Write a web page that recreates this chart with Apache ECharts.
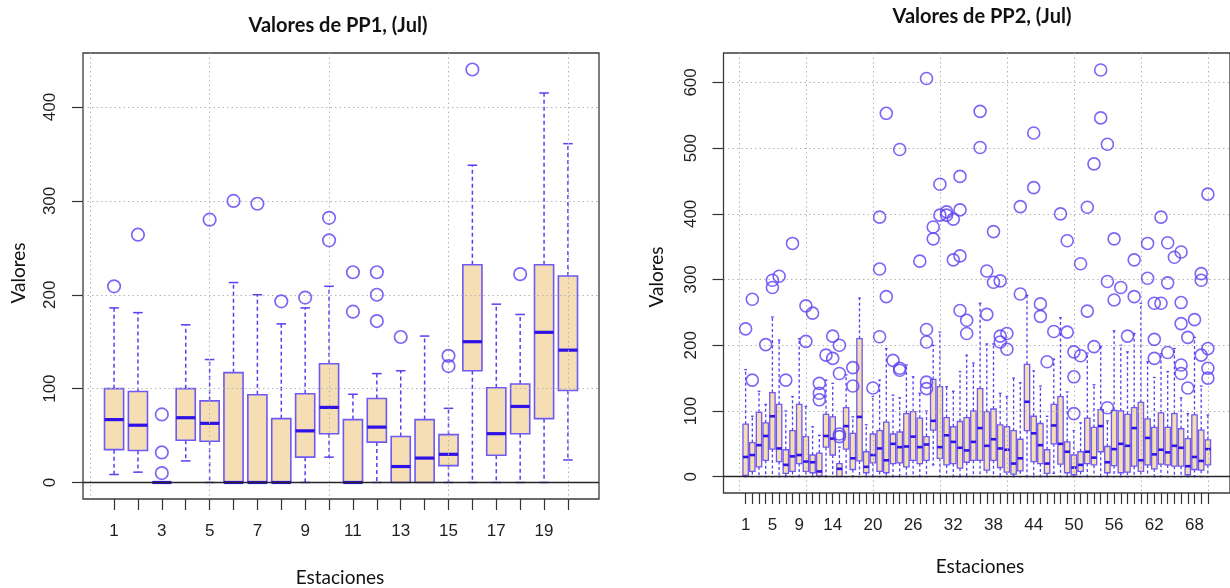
<!DOCTYPE html>
<html>
<head>
<meta charset="utf-8">
<script src="https://cdn.jsdelivr.net/npm/echarts@6/dist/echarts.min.js"></script>
<style>
  html, body { margin: 0; padding: 0; background: #ffffff; }
  #chart { width: 1230px; height: 588px; }
</style>
</head>
<body>
<div id="chart"></div>
<script>
// ---- PP1 (July), 20 stations: whisker ends, quartiles, median, outliers ----
const pp1Stations = [1,2,3,4,5,6,7,8,9,10,11,12,13,14,15,16,17,18,19,20];
const pp1Low    = [8.5, 11, 0, 23, 0, 0, 0, 0, 0, 27, 0, 0, 0, 0, 0, 0, 0, 0, 0, 24];
const pp1Q1     = [35, 34, 0, 45, 44, 0, 0, 0, 27, 52, 0, 43, 0, 0, 18, 119, 29, 52, 68, 98];
const pp1Median = [67, 61, 0, 69, 63, 0, 0, 0, 55, 80, 0, 59, 17, 26, 30, 150, 52, 81, 160, 141];
const pp1Q3     = [100, 97, 0, 100, 87, 117, 93.5, 68, 94.5, 126.5, 67, 89.5, 49, 67, 51, 232, 101, 105, 232, 220];
const pp1High   = [186, 181, 0, 168, 131, 213, 200, 169, 186, 209, 94, 116, 119, 156, 79, 338, 190, 179, 415, 361];
const pp1Outliers = [
  [209], [264], [10, 32, 72.5], [], [280], [300], [297], [193], [197], [258, 282],
  [182, 224], [172, 200, 224], [155], [], [124, 135], [440], [], [222], [], []
];
const pp1TickLabels = [1, 3, 5, 7, 9, 11, 13, 15, 17, 19];
const pp1ValueTicks = [0, 100, 200, 300, 400];
const pp1GridX = [0, 5, 10, 15, 20];

// ---- PP2 (July), 70 stations ----
const pp2Stations = Array.from({ length: 70 }, (_, i) => i + 1);
const pp2Low = [
  0,0,0,0,0,0,0,0,0,0, 0,0,0,0,0,0,0,0,0,0, 0,0,0,0,0,0,0,0,18,0,
  0,0,0,0,0,0,0,0,0,0, 0,0,0,0,0,0,5,0,0,0, 0,0,0,0,0,0,0,0,0,0,
  0,0,0,0,0,0,0,0,0,0
];
const pp2Q1 = [
  2,8,15,25,42,23,5,8,20,8, 6,1,45,33,0,42,11,24,6,21, 8,6,20,21,15,25,20,25,71,28,
  18,20,13,22,25,25,10,25,14,7, 4,9,70,23,20,5,50,19,6,3, 8,20,18,38,6,17,6,7,16,8,
  18,12,19,18,16,16,3,11,10,18
];
const pp2Median = [
  30,33,48,62,92,43,18,31,33,23, 22,8,62,58,12,77,28,91,15,33, 43,25,50,45,46,61,45,49,85,45,
  63,53,44,40,53,74,47,57,43,41, 20,28,114,66,48,20,78,50,38,14, 18,38,29,77,22,42,50,47,74,25,
  59,34,41,37,47,44,16,30,24,42
];
const pp2Q3 = [
  80,52,98,82,128,110,41,70,110,61, 33,36,95,91,20,105,66,210,38,65, 70,83,65,68,96,99,89,61,148,137,
  90,76,84,90,100,134,99,103,79,76, 70,57,171,92,81,41,110,122,53,33, 38,89,75,102,46,101,100,95,105,113,
  88,75,97,75,96,73,58,94,71,56
];
const pp2High = [
  163,92,130,110,243,208,100,122,210,107, 76,63,147,142,45,155,91,272,79,122, 147,195,124,120,170,152,127,100,200,220,
  137,130,160,185,173,264,202,202,127,122, 150,143,276,161,138,92,179,242,129,70, 82,188,140,198,85,222,200,190,218,264,
  175,151,187,160,195,120,96,212,138,94
];
const pp2Outliers = [
  [225], [147, 270], [], [201], [288, 299], [305], [147], [355], [], [206, 260],
  [249], [117, 127, 142], [185], [180, 214], [61, 65, 157, 200], [], [138, 166], [], [], [135],
  [213, 316, 395], [274, 553], [177], [162, 165, 498], [], [], [328], [134, 144, 205, 224, 606], [362, 380], [398, 445],
  [398, 403], [330, 392], [253, 336, 406, 457], [218, 238], [], [501, 556], [247, 313], [296, 373], [205, 214, 298], [194, 218],
  [], [278, 411], [], [440, 523], [244, 263], [175], [221], [400], [220, 359], [96, 152, 190],
  [184, 324], [252, 410], [198, 476], [546, 619], [105, 297, 506], [269, 362], [288], [214], [274, 330], [],
  [302, 355], [180, 209, 264], [264, 395], [189, 295, 356], [334], [157, 170, 233, 265, 342], [135, 212], [239], [185, 299, 309], [150, 165, 195, 430]
];
const pp2TickLabels = [1, 5, 9, 14, 20, 26, 32, 38, 44, 50, 56, 62, 68];
const pp2ValueTicks = [0, 100, 200, 300, 400, 500, 600];
const pp2GridX = [0, 10, 20, 30, 40, 50, 60, 70];

// ---- helpers ----
function boxRows(stations, lo, q1, med, q3, hi) {
  return stations.map((s, i) => [s, lo[i], q1[i], med[i], q3[i], hi[i]]);
}
function outlierPoints(stations, outs) {
  const pts = [];
  stations.forEach((s, i) => outs[i].forEach(v => pts.push([s, v])));
  return pts;
}

const FILL = '#F5DEB3';
const BORDER = '#6F58F4';
const MEDIAN = '#2E12E6';
const WHISKER = '#5540F2';
const OUTLIER = '#5A40F4';

// Box-and-whisker glyph: dashed whiskers, solid staples, filled box, heavy median.
function makeBoxRenderer(st) {
  return function (params, api) {
    const k = api.value(0);
    const lo = api.value(1), q1 = api.value(2), med = api.value(3), q3 = api.value(4), hi = api.value(5);
    const w = api.size([0.8, 0])[0];
    const cx = api.coord([k, 0])[0];
    const py = v => api.coord([k, v])[1];
    const half = w / 2;
    const sh = w * 0.25;
    const dashed = { stroke: WHISKER, lineWidth: st.whiskerWidth, lineDash: st.dash };
    const solid = { stroke: WHISKER, lineWidth: st.whiskerWidth };
    const children = [];
    if (hi > q3) children.push({ type: 'line', shape: { x1: cx, y1: py(q3), x2: cx, y2: py(hi) }, style: dashed });
    if (lo < q1) children.push({ type: 'line', shape: { x1: cx, y1: py(q1), x2: cx, y2: py(lo) }, style: dashed });
    if (hi > q3) children.push({ type: 'line', shape: { x1: cx - sh, y1: py(hi), x2: cx + sh, y2: py(hi) }, style: solid });
    if (lo < q1) children.push({ type: 'line', shape: { x1: cx - sh, y1: py(lo), x2: cx + sh, y2: py(lo) }, style: solid });
    children.push({
      type: 'rect',
      shape: { x: cx - half, y: py(q3), width: w, height: Math.max(py(q1) - py(q3), 0) },
      style: { fill: FILL, stroke: BORDER, lineWidth: st.borderWidth }
    });
    children.push({
      type: 'line',
      shape: { x1: cx - half, y1: py(med), x2: cx + half, y2: py(med) },
      style: { stroke: MEDIAN, lineWidth: st.medianWidth }
    });
    return { type: 'group', children };
  };
}

const tickFont = { fontFamily: 'Liberation Sans', fontSize: 17, color: '#1e1e1e' };
const gridLine = { show: true, lineStyle: { color: '#b4b4b4', type: [1.5, 3], width: 1 } };

function labelAxisX(gridIndex, min, max, ticks, labels) {
  return {
    type: 'value', gridIndex, min, max, position: 'bottom', z: 5,
    axisLine: { show: false, onZero: false },
    axisTick: { show: true, length: 11, inside: false, customValues: ticks, lineStyle: { color: '#333', width: 1.2 } },
    axisLabel: { show: true, margin: 24, customValues: labels, ...tickFont },
    splitLine: { show: false }
  };
}
function gridAxisX(gridIndex, min, max, lines) {
  return {
    type: 'value', gridIndex, min, max, position: 'top', z: 5,
    axisLine: { show: false, onZero: false },
    axisTick: { show: false, customValues: lines },
    axisLabel: { show: false },
    splitLine: gridLine
  };
}
function valueAxisY(gridIndex, min, max, ticks) {
  return {
    type: 'value', gridIndex, min, max, position: 'left', z: 5,
    axisLine: { show: false, onZero: false },
    axisTick: { show: true, length: 11, inside: false, customValues: ticks, lineStyle: { color: '#333', width: 1.2 } },
    axisLabel: { show: true, rotate: 90, margin: 24, customValues: ticks, ...tickFont },
    splitLine: gridLine
  };
}

const zeroLine = {
  silent: true, symbol: ['none', 'none'], animation: false,
  label: { show: false },
  lineStyle: { color: '#262626', width: 1.4, type: 'solid' },
  emphasis: { disabled: true },
  data: [{ yAxis: 0 }]
};

const titleFont = 'Lato';
function text(x, y, str, size, weight, rot) {
  return {
    type: 'text', x, y, rotation: rot || 0, silent: true,
    style: { text: str, fontFamily: titleFont, fontSize: size, fontWeight: weight, fill: '#111', align: 'center', verticalAlign: 'middle' }
  };
}

const chart = echarts.init(document.getElementById('chart'), null, { renderer: 'canvas' });
chart.setOption({
  animation: false,
  backgroundColor: '#ffffff',
  grid: [
    { left: 83, top: 53, width: 516, height: 446, show: true, borderColor: '#3a3a3a', borderWidth: 1.3, backgroundColor: 'transparent' },
    { left: 723.5, top: 53, width: 510, height: 440, show: true, borderColor: '#3a3a3a', borderWidth: 1.3, backgroundColor: 'transparent' }
  ],
  xAxis: [
    labelAxisX(0, -0.3, 21.3, pp1Stations, pp1TickLabels),
    gridAxisX(0, -0.3, 21.3, pp1GridX),
    labelAxisX(1, -2.3, 73.3, pp2Stations, pp2TickLabels),
    gridAxisX(1, -2.3, 73.3, pp2GridX)
  ],
  yAxis: [
    valueAxisY(0, -17.6, 457.6, pp1ValueTicks),
    valueAxisY(1, -24.8, 644.8, pp2ValueTicks)
  ],
  series: [
    {
      type: 'custom', name: 'PP1', xAxisIndex: 0, yAxisIndex: 0, z: 2,
      encode: { x: 0, y: [1, 2, 3, 4, 5] },
      renderItem: makeBoxRenderer({ whiskerWidth: 1.5, dash: [4, 3], borderWidth: 1.6, medianWidth: 3.2 }),
      data: boxRows(pp1Stations, pp1Low, pp1Q1, pp1Median, pp1Q3, pp1High)
    },
    {
      type: 'scatter', name: 'PP1 atípicos', xAxisIndex: 0, yAxisIndex: 0, z: 6,
      symbol: 'circle', symbolSize: 12.5,
      itemStyle: { color: 'rgba(0,0,0,0)', borderColor: OUTLIER, borderWidth: 1.7 },
      data: outlierPoints(pp1Stations, pp1Outliers),
      markLine: zeroLine
    },
    {
      type: 'custom', name: 'PP2', xAxisIndex: 2, yAxisIndex: 1, z: 2,
      encode: { x: 0, y: [1, 2, 3, 4, 5] },
      renderItem: makeBoxRenderer({ whiskerWidth: 1.3, dash: [3, 2.5], borderWidth: 1.3, medianWidth: 2.6 }),
      data: boxRows(pp2Stations, pp2Low, pp2Q1, pp2Median, pp2Q3, pp2High)
    },
    {
      type: 'scatter', name: 'PP2 atípicos', xAxisIndex: 2, yAxisIndex: 1, z: 6,
      symbol: 'circle', symbolSize: 12,
      itemStyle: { color: 'rgba(0,0,0,0)', borderColor: OUTLIER, borderWidth: 1.6 },
      data: outlierPoints(pp2Stations, pp2Outliers),
      markLine: zeroLine
    }
  ],
  graphic: [
    text(338, 26, 'Valores de PP1, (Jul)', 20, 'bold'),
    text(982, 17, 'Valores de PP2, (Jul)', 20, 'bold'),
    text(340, 578, 'Estaciones', 19, 'normal'),
    text(980, 567, 'Estaciones', 19, 'normal'),
    text(19, 273, 'Valores', 19, 'normal', Math.PI / 2),
    text(657, 277, 'Valores', 19, 'normal', Math.PI / 2)
  ]
});
</script>
</body>
</html>
